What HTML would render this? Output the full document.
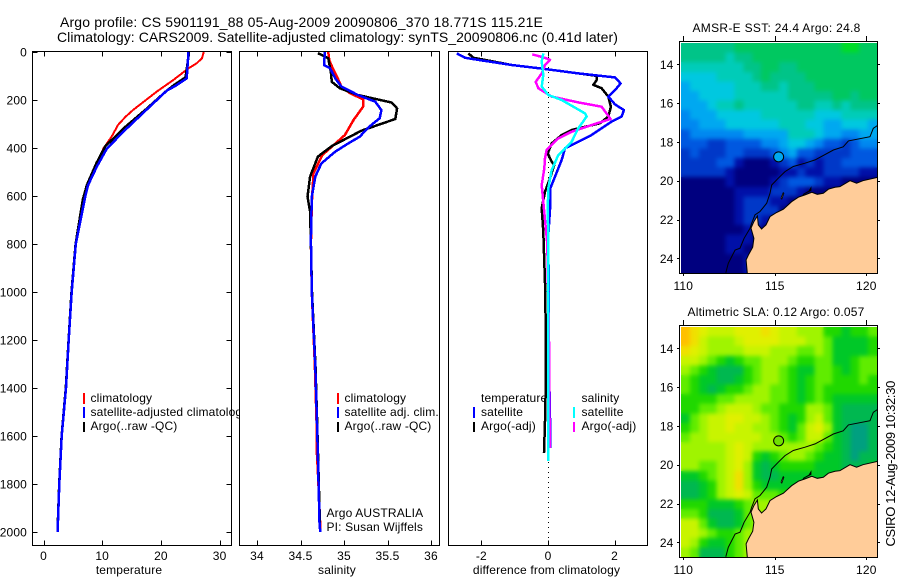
<!DOCTYPE html>
<html lang="en">
<head>
<meta charset="utf-8">
<title>Argo profile chart</title>
<style>
html,body{margin:0;padding:0;background:#fff;}
svg{display:block;}
text{font-family:"Liberation Sans",sans-serif;font-size:12px;fill:#000;letter-spacing:.15px;}
</style>
</head>
<body>
<svg id="chart" xmlns="http://www.w3.org/2000/svg" width="900" height="580" viewBox="0 0 900 580">
<rect x="0" y="0" width="900" height="580" fill="#fff"/>
<text x="60" y="27" style="font-size:14px" textLength="483" lengthAdjust="spacing">Argo profile: CS 5901191_88 05-Aug-2009 20090806_370 18.771S 115.21E</text>
<text x="57" y="42" style="font-size:14px" textLength="561" lengthAdjust="spacing">Climatology: CARS2009. Satellite-adjusted climatology: synTS_20090806.nc (0.41d later)</text>

<g id="p1"></g>
<g>
  <line x1="84" x2="84" y1="393" y2="404" stroke="#f00" stroke-width="2" shape-rendering="crispEdges"/>
  <text x="90.5" y="402">climatology</text>
  <line x1="84" x2="84" y1="407" y2="418" stroke="#00f" stroke-width="2" shape-rendering="crispEdges"/>
  <text x="90.5" y="416">satellite-adjusted climatology</text>
  <line x1="84" x2="84" y1="422" y2="432" stroke="#000" stroke-width="2" shape-rendering="crispEdges"/>
  <text x="90.5" y="430">Argo(..raw -QC)</text>
</g>

<g id="p2"></g>
<g>
  <line x1="338" x2="338" y1="393" y2="404" stroke="#f00" stroke-width="2" shape-rendering="crispEdges"/>
  <text x="344.5" y="402">climatology</text>
  <line x1="338" x2="338" y1="407" y2="418" stroke="#00f" stroke-width="2" shape-rendering="crispEdges"/>
  <text x="344.5" y="416">satellite adj. clim.</text>
  <line x1="338" x2="338" y1="422" y2="432" stroke="#000" stroke-width="2" shape-rendering="crispEdges"/>
  <text x="344.5" y="430">Argo(..raw -QC)</text>
  <text x="326.5" y="517">Argo AUSTRALIA</text>
  <text x="326.5" y="531">PI: Susan Wijffels</text>
</g>

<g id="p3"></g>
<g>
  <text x="481" y="402">temperature</text>
  <line x1="474" x2="474" y1="407" y2="418" stroke="#00f" stroke-width="2" shape-rendering="crispEdges"/>
  <text x="481" y="416">satellite</text>
  <line x1="474" x2="474" y1="422" y2="432" stroke="#000" stroke-width="2" shape-rendering="crispEdges"/>
  <text x="481" y="430">Argo(-adj)</text>
  <text x="581.5" y="402">salinity</text>
  <line x1="574" x2="574" y1="407" y2="418" stroke="#0ff" stroke-width="2" shape-rendering="crispEdges"/>
  <text x="581.5" y="416">satellite</text>
  <line x1="574" x2="574" y1="422" y2="432" stroke="#f0f" stroke-width="2" shape-rendering="crispEdges"/>
  <text x="581.5" y="430">Argo(-adj)</text>
</g>

<g id="m1"></g>
<g id="m2"></g>

<text x="692.5" y="32" textLength="168" lengthAdjust="spacing">AMSR-E SST: 24.4  Argo: 24.8</text>
<text x="687.5" y="316" textLength="177" lengthAdjust="spacing">Altimetric SLA: 0.12  Argo: 0.057</text>
<text transform="translate(895,546.5) rotate(-90)" style="font-size:13px" textLength="166" lengthAdjust="spacing">CSIRO 12-Aug-2009 10:32:30</text>
</svg>

<script>
// ---------- chart data ----------
const depthTicks = [0,200,400,600,800,1000,1200,1400,1600,1800,2000];
const tempTicks = [0,10,20,30];
const salTicks = [34,34.5,35,35.5,36];
const diffTicks = [-2,0,2];
const lonTicks = [110,115,120];
const latTicks = [14,16,18,20,22,24];

const tempClimDepth = [0,26,47,68,117,165,241,269,304,353,402,464,533,603,800,1000,1200,1400,1600,1800,2000];
const tempClim = [27.3,27,26.1,24.7,22.1,19.3,15.3,14,12.7,11.6,10.2,9.1,7.9,7.1,5.5,4.8,4.3,3.8,3.1,2.7,2.4];
const tempSatDepth = [0,110,142,161,228,325,402,477,554,603,800,1000,1200,1400,1600,1800,2000];
const tempSat = [24.7,24.4,22.4,21,18.1,13.9,10.8,9.1,7.6,7.1,5.5,4.8,4.3,3.83,3.1,2.7,2.4];
const tempArgoDepth = [0,18,105,133,161,236,319,394,464,554,615,800,1000,1200,1400,1600,1800,2000];
const tempArgo = [24.7,24.7,24.2,22.5,21,17.6,13.6,10.5,9,7.4,6.7,5.46,4.77,4.27,3.8,3.08,2.68,2.38];

const salClimDepth = [0,33,68,103,144,172,197,228,283,346,388,429,506,630,800,1000,1310,1547,1680,1750,2000];
const salClim = [34.82,34.83,34.87,34.92,34.97,35.07,35.22,35.22,35.11,35.01,34.88,34.75,34.65,34.63,34.62,34.63,34.665,34.685,34.69,34.70,34.73];
const salSatDepth = [0,54,68,110,144,179,207,242,276,314,353,381,415,464,519,603,783,1000,1310,1547,1687,1975,2000];
const salSat = [34.78,34.77,34.84,34.9,34.97,35.16,35.36,35.43,35.41,35.28,35.18,35.05,34.9,34.74,34.67,34.63,34.62,34.63,34.67,34.69,34.70,34.72,34.73];
const salArgoDepth = [5,26,89,124,151,179,211,235,279,304,328,392,436,519,603,665,800,1000,1310,1547,1687,2000];
const salArgo = [34.7,34.82,34.85,34.86,34.95,35.16,35.55,35.61,35.59,35.39,35.2,34.86,34.7,34.61,34.58,34.61,34.62,34.632,34.672,34.692,34.702,34.725];

const diffTempSatDepth = [6,24,33,54,71,89,106,131,151,186,218,242,269,290,346,374,401,450,519,568,638,763,1000,1300,1590,1650];
const diffTempSat = [-2.74,-2.49,-2.09,-1.09,-0.09,0.91,2.01,2.18,2.06,1.81,2.01,2.28,2.21,1.91,1.31,0.91,0.51,0.41,0.21,0.07,0.07,0.01,0.02,0.03,0.07,0.07];
const diffTempArgoDepth = [6,24,29,54,71,99,117,137,151,186,228,269,297,325,346,381,422,457,471,526,582,651,749,1000,1300,1500,1670];
const diffTempArgo = [-2.39,-2.24,-2.04,-1.09,-0.09,1.46,1.46,1.36,1.61,1.81,1.89,1.81,1.56,0.71,0.41,0.11,-0.01,0.11,0.19,0.06,-0.09,-0.19,-0.14,-0.08,-0.06,-0.08,-0.12];
const diffSalArgoDepth = [10,24,33,54,89,124,151,186,210,228,279,304,332,360,408,443,485,554,624,800,1200,1650];
const diffSalArgo = [-0.47,-0.09,0.06,-0.09,-0.19,-0.37,-0.29,0.11,0.91,1.61,1.88,1.31,0.71,0.31,-0.04,-0.09,-0.11,-0.19,-0.14,-0.02,0.03,0.05];
const diffSalSatDepth = [6,40,96,144,179,200,256,269,318,374,429,492,568,665,763,1000,1300,1704];
const diffSalSat = [-0.14,-0.19,-0.14,-0.19,0.01,0.41,1.11,1.16,0.91,0.71,0.31,0.11,0.01,-0.01,0.01,0,0,0.01];

const floatLon = [115.21];
const floatLat = [18.77];

// SST map cells, colour level 0 (cool) to 10 (warm), north to south
const sstCells = [
[8,8,8,8,8,8,9,9,9,9,9,9,9,9,9,9,9,9,10,10,9,9],
[8,8,8,8,8,7,8,8,9,9,9,9,9,9,9,9,9,9,9,9,9,9],
[7,7,7,7,7,7,7,8,8,9,9,8,8,9,9,9,9,9,9,9,9,9],
[6,6,6,6,7,7,7,7,8,9,8,8,8,8,9,9,9,9,9,9,9,9],
[5,6,6,6,6,6,7,7,7,8,8,7,8,8,8,9,9,9,9,9,9,9],
[5,5,6,6,6,6,7,7,7,7,7,7,8,8,8,8,8,9,9,8,9,9],
[5,5,5,6,7,7,8,7,7,7,7,7,7,8,8,7,7,8,7,8,8,8],
[4,5,5,5,6,6,6,6,6,7,7,7,7,7,7,6,6,6,7,7,7,7],
[4,4,5,5,5,6,6,6,6,6,6,7,7,7,6,6,5,5,6,6,6,5],
[3,4,4,4,4,4,4,5,5,5,5,5,7,7,7,6,5,5,4,4,5,5],
[3,3,3,2,2,3,3,3,3,4,4,5,6,6,5,4,3,3,2,3,4,4],
[2,3,2,2,2,3,3,2,2,2,3,4,5,3,3,2,2,2,2,3,3,3],
[2,2,2,2,3,3,1,0,0,0,1,2,3,1,2,1,2,2,3,3,3,3],
[2,2,2,2,2,1,0,0,0,0,0,1,1,2,1,1,2,2,2,2,1,1],
[0,0,0,0,0,1,0,0,0,0,1,2,3,3,3,2,1,1,0,0,0,0],
[0,0,0,0,0,0,1,1,1,1,2,2,2,1,0,0,0,0,0,0,0,0],
[0,0,0,0,0,0,1,2,2,2,1,1,0,0,0,0,0,0,0,0,0,0],
[0,0,0,0,0,0,1,2,2,2,2,0,0,0,0,0,0,0,0,0,0,0],
[0,0,0,0,0,0,1,2,2,1,0,0,0,0,0,0,0,0,0,0,0,0],
[0,0,0,0,0,0,0,1,1,0,0,0,0,0,0,0,0,0,0,0,0,0],
[0,0,0,0,0,1,1,1,0,0,0,0,0,0,0,0,0,0,0,0,0,0],
[0,0,0,0,0,1,1,0,0,0,0,0,0,0,0,0,0,0,0,0,0,0],
[0,0,0,0,0,0,0,1,0,0,0,0,0,0,0,0,0,0,0,0,0,0],
[0,0,0,0,0,0,0,1,0,0,0,0,0,0,0,0,0,0,0,0,0,0]
];

// SLA map cells, colour level 0 (low) to 9 (high), north to south
const slaCells = [
[9,8,7,6,6,6,7,7,7,8,7,6,6,5,5,5,3,3,2,3,3,4],
[9,8,6,5,5,5,6,7,7,7,7,6,6,6,5,5,4,2,2,2,2,3],
[8,7,6,5,5,5,5,6,6,6,5,5,5,4,4,5,4,2,2,2,2,3],
[6,6,5,4,3,2,3,4,4,5,5,5,4,3,3,4,4,2,2,3,4,4],
[5,4,3,2,1,1,1,3,4,5,5,4,3,2,2,4,4,3,2,3,4,4],
[4,3,2,2,1,1,2,3,4,5,5,4,3,2,3,4,4,3,3,3,4,3],
[4,3,2,1,2,3,3,4,5,5,4,4,3,2,3,4,3,3,3,3,3,3],
[3,3,3,3,4,4,5,5,5,5,4,4,3,2,3,4,3,2,2,2,2,2],
[3,3,4,4,5,6,6,6,5,4,4,3,3,3,5,5,4,2,1,1,1,1],
[2,4,5,6,6,7,7,6,6,5,4,3,2,3,5,6,4,2,1,1,1,1],
[3,4,5,6,6,7,6,6,5,5,4,3,2,4,6,7,5,2,1,0,0,1],
[4,5,5,6,6,6,6,6,6,5,5,4,3,4,6,6,4,2,1,0,0,1],
[5,5,5,5,5,6,7,6,5,5,5,5,5,5,5,4,3,2,1,0,0,1],
[5,5,5,5,5,6,7,6,3,2,3,4,5,5,4,3,2,2,1,0,1,1],
[5,5,4,4,5,6,7,5,2,1,2,3,3,3,3,2,2,2,1,1,1,2],
[2,2,3,4,5,6,8,5,2,1,1,2,2,2,2,2,2,2,2,2,2,2],
[1,1,2,3,5,6,8,5,3,2,2,2,2,2,2,2,2,2,2,2,2,2],
[1,1,2,3,5,6,7,6,4,4,4,3,3,3,3,3,3,3,3,3,3,3],
[3,3,3,2,2,2,3,4,5,5,5,5,5,5,4,4,4,4,4,4,4,4],
[4,4,3,1,1,1,2,4,5,5,5,5,5,5,5,5,5,5,5,5,5,5],
[6,6,4,2,1,1,2,4,5,5,5,5,5,5,5,5,5,5,5,5,5,5],
[6,6,5,4,3,3,4,5,5,5,5,5,5,5,5,5,5,5,5,5,5,5],
[6,5,3,2,2,3,4,5,5,5,5,5,5,5,5,5,5,5,5,5,5,5],
[5,4,1,1,1,3,4,5,5,5,5,5,5,5,5,5,5,5,5,5,5,5]
];

const landLon = [120.65,120.65,119.82,119.47,119.11,118.56,118.29,117.93,117.65,117.32,117.02,116.65,116.29,115.92,115.47,115.10,114.74,114.52,114.28,114.10,114.05,113.86,113.70,113.86,113.79,113.56,113.43,113.50,113.50,120.65];
const landLat = [24.85,19.82,20.0,20.13,20.0,20.31,20.34,20.44,20.65,20.7,20.6,20.73,20.85,21.08,21.47,21.64,21.85,22.28,22.49,22.28,21.82,22.11,22.45,22.97,23.43,23.83,24.08,24.77,24.85,24.85];
const shelfLon = [112.32,112.46,112.83,113.10,113.32,113.65,113.74,113.92,114.19,114.56,114.74,114.83,115.19,115.56,116.01,116.65,117.2,118.2,118.74,119.02,120.2,120.38,120.65];
const shelfLat = [24.74,24.26,23.57,23.48,22.97,22.45,22.19,21.76,21.59,21.16,20.65,20.22,19.87,19.53,19.27,19.10,18.93,18.42,18.25,17.95,17.73,17.3,17.13];
const islandLon = [115.38,115.50,115.46,115.34];
const islandLat = [20.95,20.65,20.62,20.90];
const shoalLon = [116.55,116.85,117.0,117.0,116.7,116.5];
const shoalLat = [20.68,20.52,20.28,20.52,20.66,20.78];

// ---------- drawing ----------
const NS = 'http://www.w3.org/2000/svg';
function mk(parent, tag, attrs) {
  const el = document.createElementNS(NS, tag);
  for (const k in attrs) el.setAttribute(k, attrs[k]);
  parent.appendChild(el);
  return el;
}
function segment(parent, x1, y1, x2, y2, name) {
  const el = mk(parent, 'line', {x1, y1, x2, y2, stroke:'#000', 'stroke-width':1, 'shape-rendering':'crispEdges'});
  
  
  return el;
}
function label(parent, x, y, str, anchor, name) {
  const el = mk(parent, 'text', {x, y, 'text-anchor':anchor});
  el.textContent = str;
  
  
  return el;
}

const depthTop = 52, depthScale = 0.24;
const yDepth = d => depthTop + depthScale * d;
const xTemp = v => 43.5 + 5.87 * v;
const xSal = v => 257 + 87 * (v - 34);
const xDiff = v => 548 + 33.3 * v;

function panel(gid, L, R, xScale, ticks, xTitle, titleX, showDepth, fmt) {
  const g = document.getElementById(gid);
  const T = 51.5, B = 545.5;
  const bg = mk(g, 'rect', {x:L, y:T, width:R-L, height:B-T, fill:'#fff', stroke:'#000', 'stroke-width':1, 'shape-rendering':'crispEdges'});
  
  
  ticks.forEach(t => {
    const x = Math.round(xScale(t)) + 0.5;
    segment(g, x, T, x, T+5, 'x-tick-top');
    segment(g, x, B, x, B-5, 'x-tick-bottom');
    label(g, xScale(t), 560, fmt ? fmt(t) : String(t), 'middle', 'x-tick-label');
  });
  label(g, titleX, 574, xTitle, 'middle', 'x-axis-title');
  if (showDepth) {
    depthTicks.forEach(d => {
      const y = Math.round(yDepth(d)) + 0.5;
      segment(g, L, y, L+5, y, 'y-tick-left');
      segment(g, R, y, R-5, y, 'y-tick-right');
      label(g, 27, yDepth(d)+4.5, String(d), 'end', 'y-tick-label');
    });
  }
  return g;
}
function profile(g, xScale, depths, values, colour, width, name) {
  const pts = values.map((v,i) => xScale(v).toFixed(1) + ',' + yDepth(depths[i]).toFixed(1)).join(' ');
  const el = mk(g, 'polyline', {points:pts, fill:'none', stroke:colour, 'stroke-width':width, 'stroke-linejoin':'round', 'shape-rendering':'crispEdges'});
  
  
}

const g1 = panel('p1', 32.5, 231.5, xTemp, tempTicks, 'temperature', 129, true);
profile(g1, xTemp, tempClimDepth, tempClim, '#f00', 2, 'temperature-climatology-line');
profile(g1, xTemp, tempArgoDepth, tempArgo, '#000', 2.5, 'temperature-argo-line');
profile(g1, xTemp, tempSatDepth, tempSat, '#00f', 2.5, 'temperature-satellite-line');

const g2 = panel('p2', 239.5, 439.5, xSal, salTicks, 'salinity', 337, false);
profile(g2, xSal, salClimDepth, salClim, '#f00', 2.5, 'salinity-climatology-line');
profile(g2, xSal, salArgoDepth, salArgo, '#000', 2.5, 'salinity-argo-line');
profile(g2, xSal, salSatDepth, salSat, '#00f', 2.5, 'salinity-satellite-line');

const g3 = panel('p3', 448.5, 647.5, xDiff, diffTicks, 'difference from climatology', 546.5, false);
const zero = mk(g3, 'line', {x1:xDiff(0)+0.5, x2:xDiff(0)+0.5, y1:52, y2:545, stroke:'#000', 'stroke-width':1, 'stroke-dasharray':'1 4', 'shape-rendering':'crispEdges'});


profile(g3, xDiff, diffTempArgoDepth, diffTempArgo, '#000', 2.5, 'difference-temperature-argo-line');
profile(g3, xDiff, diffTempSatDepth, diffTempSat, '#00f', 2.5, 'difference-temperature-satellite-line');
profile(g3, xDiff, diffSalArgoDepth, diffSalArgo, '#f0f', 2.5, 'difference-salinity-argo-line');
profile(g3, xDiff, diffSalSatDepth, diffSalSat, '#0ff', 2.5, 'difference-salinity-satellite-line');

function sstColour(v) {
  const stops = ['#00007f','#0010a8','#0038c8','#0058e0','#0088f0','#00a8f0','#00c8e0','#00ccb8','#00c488','#00c860','#00dc28'];
  return stops[Math.max(0, Math.min(stops.length-1, Math.round(v)))];
}
function slaColour(v) {
  const stops = ['#00a080','#00b850','#00c828','#20d800','#60ec00','#a0f400','#c8f400','#e0f000','#f0e000','#ffc000'];
  return stops[Math.max(0, Math.min(stops.length-1, Math.round(v)))];
}

function mapPanel(gid, top, bottom, lat14y, cells, colour, dotColour, prefix) {
  const g = document.getElementById(gid);
  const L = 681, R = 877;
  const xLon = lon => 683.3 + 18.3 * (lon - 110);
  const yLat = lat => lat14y + 19.4 * (lat - 14);
  const clipId = gid + '-clip';
  const softId = gid + '-soften';
  const defs = mk(g, 'defs', {});
  const cp = mk(defs, 'clipPath', {id:clipId});
  mk(cp, 'rect', {x:L, y:top, width:R-L, height:bottom-top});
  const soft = mk(defs, 'filter', {id:softId, 'color-interpolation-filters':'sRGB'});
  mk(soft, 'feGaussianBlur', {in:'SourceGraphic', stdDeviation:2.2, result:'b'});
  const merge = mk(soft, 'feMerge', {});
  mk(merge, 'feMergeNode', {in:'SourceGraphic'});
  mk(merge, 'feMergeNode', {in:'b'});
  const plot = mk(g, 'g', {'clip-path':'url(#'+clipId+')'});
  
  
  const cellGroup = mk(plot, 'g', {filter:'url(#'+softId+')'});
  
  
  const cw = (R-L)/cells[0].length, ch = (bottom-top)/cells.length;
  cells.forEach((row,r) => row.forEach((v,c) => {
    const cell = mk(cellGroup, 'rect', {x:(L+c*cw).toFixed(2), y:(top+r*ch).toFixed(2), width:(cw+0.6).toFixed(2), height:(ch+0.6).toFixed(2), fill:colour(v), 'shape-rendering':'crispEdges'});
    
    
  }));
  const pts = (lons, lats) => lons.map((lo,i) => xLon(lo).toFixed(1)+','+yLat(lats[i]).toFixed(1)).join(' ');
  const land = mk(plot, 'polygon', {points:pts(landLon, landLat), fill:'#ffcc99', stroke:'#000', 'stroke-width':1});
  
  
  const shelf = mk(plot, 'polyline', {points:pts(shelfLon, shelfLat), fill:'none', stroke:'#000', 'stroke-width':1});
  
  
  const island = mk(plot, 'polygon', {points:pts(islandLon, islandLat), fill:'#ffcc99', stroke:'#000', 'stroke-width':0.8});
  
  
  const shoal = mk(plot, 'polygon', {points:pts(shoalLon, shoalLat), fill:'#000'});
  
  
  const dot = mk(plot, 'circle', {cx:xLon(floatLon[0]), cy:yLat(floatLat[0]), r:5, fill:dotColour, stroke:'#000', 'stroke-width':1});
  
  
  const frame = mk(g, 'rect', {x:679.5, y:top-1.5, width:198, height:bottom-top+2, fill:'none', stroke:'#000', 'stroke-width':1, 'shape-rendering':'crispEdges'});
  
  
  lonTicks.forEach(lo => {
    const x = Math.round(xLon(lo)) + 0.5;
    segment(g, x, top-7, x, top-1, 'x-tick-top');
    segment(g, x, bottom, x, bottom+3, 'x-tick-bottom');
    label(g, xLon(lo), bottom+17, String(lo), 'middle', 'x-tick-label');
  });
  latTicks.forEach(la => {
    const y = Math.round(yLat(la)) + 0.5;
    segment(g, 677, y, 679.5, y, 'y-tick-left');
    segment(g, 877.5, y, 880, y, 'y-tick-right');
    label(g, 673.5, yLat(la)+4.5, String(la), 'end', 'y-tick-label');
  });
}
mapPanel('m1', 43, 273, 64.3, sstCells, sstColour, '#00a8f0', 'sst');
mapPanel('m2', 327, 557, 348.3, slaCells, slaColour, '#70e000', 'sla');
</script>
</body>
</html>
